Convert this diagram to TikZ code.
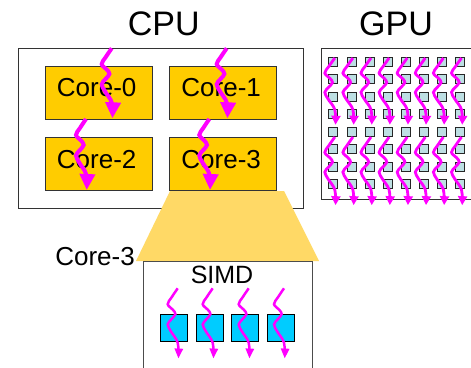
\documentclass[tikz,border=0pt]{standalone}
\usepackage{fontspec}
\setmainfont{Liberation Sans}
\usetikzlibrary{arrows.meta}
\definecolor{mag}{HTML}{FF00FF}
\definecolor{corefill}{HTML}{FFCC00}
\definecolor{trapfill}{HTML}{FFD966}
\definecolor{gsqfill}{HTML}{BDDFE3}
\definecolor{ssqfill}{HTML}{00CCFF}
\newcommand{\wavearrow}[4]{%
  \begin{scope}[shift={(#2,#3)},yscale=#4]
    \draw[#1] plot[smooth, tension=0.6] coordinates {(0,0) (-6,9) (-10,16) (-5,21.5) (-2.3,26) (-6,31) (-10,36.5) (-6.5,44) (0,55) (0.7,71)};
  \end{scope}}
\begin{document}
\begin{tikzpicture}[x=1pt,y=-1pt,
  outerbox/.style={draw=black!80, line width=0.8pt, fill=white, inner sep=0pt},
  corebox/.style={draw=black!80, line width=0.8pt, fill=corefill, minimum width=107pt, minimum height=53pt, inner sep=0pt},
  coretext/.style={font=\fontsize{26}{28}\selectfont, anchor=base, inner sep=0pt},
  titletext/.style={font=\fontsize{34}{36}\selectfont, anchor=base, inner sep=0pt},
  gsq/.style={draw=black!85, line width=0.8pt, fill=gsqfill, minimum size=9pt, inner sep=0pt},
  ssq/.style={draw=black, line width=0.8pt, fill=ssqfill, minimum size=27pt, inner sep=0pt},
  bigarrow/.style={draw=mag, line width=4pt, -{Triangle[width=15pt,length=16pt]}},
  gpuarrow/.style={draw=mag, line width=2.8pt, -{Triangle[width=9pt,length=9pt]}},
  simdarrow/.style={draw=mag, line width=2.5pt, -{Triangle[width=8pt,length=10pt]}},
  trap/.style={fill=trapfill}
]
\useasboundingbox (0,0) rectangle (471,367);

% titles
\node[titletext] (cputitle) at (163.8,35) {CPU};
\node[titletext] (gputitle) at (396,35) {GPU};

% CPU
\node[outerbox, minimum width=285pt, minimum height=160pt] (cpu) at (160.5,128) {};
\fill[trap] (170,191) -- (284,191) -- (319,261) -- (136,261) -- cycle;
\node[corebox] (c0) at (98.5,92.5) {};
\node[corebox] (c1) at (223,92.5) {};
\node[corebox] (c2) at (98.5,164) {};
\node[corebox] (c3) at (223,164) {};
\node[coretext] (t0) at (96.7,96.7) {Core-0};
\node[coretext] (t1) at (221.2,96.7) {Core-1};
\node[coretext] (t2) at (96.7,168.2) {Core-2};
\node[coretext] (t3) at (221.2,168.2) {Core-3};
\wavearrow{bigarrow}{111.7}{48.3}{0.986}
\wavearrow{bigarrow}{226.7}{48.3}{0.986}
\wavearrow{bigarrow}{86}{119}{1}
\wavearrow{bigarrow}{209.3}{119}{1}

% GPU
\node[outerbox, minimum width=152pt, minimum height=151pt] (gpu) at (397,123.5) {};
\foreach \i in {0,...,7}{
  \foreach \j in {0,...,7}{
    \node[gsq] (g\i\j) at (333.3+18.1*\i, 61.7+17.5*\j) {};
  }
}
\foreach \i in {0,...,7}{
  \wavearrow{gpuarrow}{334.8+18.1*\i}{58}{0.94}
  \wavearrow{gpuarrow}{334.8+18.1*\i}{137}{0.96}
}

% SIMD
\node[outerbox, draw=black!70, minimum width=169pt, minimum height=120pt] (simd) at (227.5,321) {};
\node[coretext, font=\fontsize{25}{27}\selectfont] (simdtext) at (222,283.3) {SIMD};
\node[coretext, anchor=base east] (c3label) at (135,265.7) {Core-3};
\foreach \k/\xx in {0/174.2,1/209.5,2/245.2,3/280.8}{
  \node[ssq] (s\k) at (\xx,328.3) {};
}
\foreach \xx in {177.7,212.7,248.7,284}{
  \wavearrow{simdarrow}{\xx}{288.3}{0.99}
}
\end{tikzpicture}
\end{document}
